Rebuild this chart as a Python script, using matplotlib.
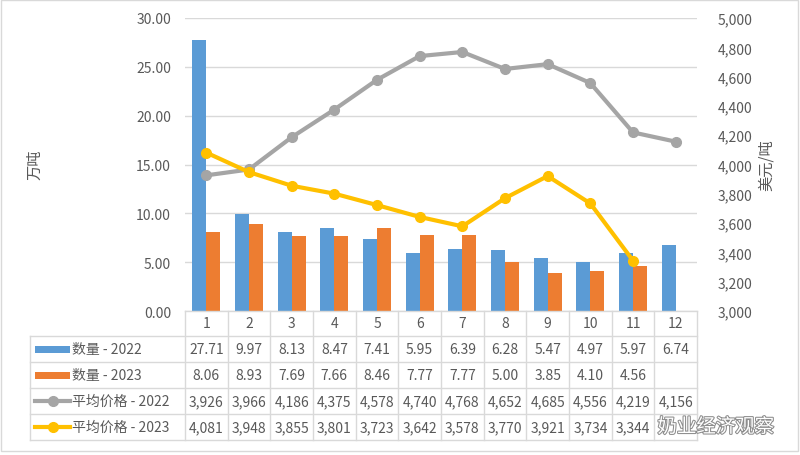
import numpy as np
import matplotlib
matplotlib.use("Agg")
import matplotlib.pyplot as plt
import matplotlib.transforms as mtrans
import matplotlib.patheffects as pe
from matplotlib.patches import Rectangle
from matplotlib.lines import Line2D

plt.rcParams['font.family'] = ['Noto Sans CJK SC', 'DejaVu Sans']

# data
months = ['1', '2', '3', '4', '5', '6', '7', '8', '9', '10', '11', '12']
qty_2022 = [27.71, 9.97, 8.13, 8.47, 7.41, 5.95, 6.39, 6.28, 5.47, 4.97, 5.97, 6.74]
qty_2023 = [8.06, 8.93, 7.69, 7.66, 8.46, 7.77, 7.77, 5.00, 3.85, 4.10, 4.56]
price_2022 = [3926, 3966, 4186, 4375, 4578, 4740, 4768, 4652, 4685, 4556, 4219, 4156]
price_2023 = [4081, 3948, 3855, 3801, 3723, 3642, 3578, 3770, 3921, 3734, 3344]
series_names = ['数量 - 2022', '数量 - 2023', '平均价格 - 2022', '平均价格 - 2023']

blue, orange, grey, gold = '#5B9BD5', '#ED7D31', '#A5A5A5', '#FFC000'
txt = '#595959'
grid_c = '#D9D9D9'

W, H = 800, 456
fig = plt.figure(figsize=(W / 100, H / 100), dpi=100)
fig.patches.append(Rectangle((0.001, 0.008), 0.997, 0.99, transform=fig.transFigure,
                             fill=False, edgecolor=grid_c, linewidth=1))

# plot area in pixels
x0, x1, ytop, ybot = 185, 697, 19, 312
ax = fig.add_axes([x0 / W, 1 - ybot / H, (x1 - x0) / W, (ybot - ytop) / H])
ax2 = ax.twinx()

x = np.arange(len(months))
bw = 0.33
ax.bar(x - bw / 2, qty_2022, bw, color=blue, zorder=2)
ax.bar(np.arange(len(qty_2023)) + bw / 2, qty_2023, bw, color=orange, zorder=2)
ax.set_xlim(-0.5, 11.5)
ax.set_ylim(0, 30)
ax.set_yticks(np.arange(0, 31, 5))
ax.set_yticklabels([f'{v:.2f}' for v in np.arange(0, 31, 5)])
ax.yaxis.grid(True, color=grid_c, linewidth=1, zorder=0)
ax.set_axisbelow(True)
ax.set_xticks([])
ax.tick_params(axis='y', length=0, pad=10, labelsize=10, labelcolor=txt)
for s in ax.spines.values():
    s.set_visible(False)

ax2.plot(x, price_2022, color=grey, linewidth=3, marker='o', markersize=7, zorder=3)
ax2.plot(np.arange(len(price_2023)), price_2023, color=gold, linewidth=3, marker='o', markersize=7, zorder=3)
ax2.set_ylim(3000, 5000)
ax2.set_yticks(np.arange(3000, 5001, 200))
ax2.set_yticklabels([f'{v:,}' for v in np.arange(3000, 5001, 200)])
ax2.tick_params(axis='y', length=0, pad=15, labelsize=10, labelcolor=txt)
for s in ax2.spines.values():
    s.set_visible(False)

fig.text(35 / W, 1 - 165 / H, '万吨', rotation=90, ha='center', va='center', fontsize=11, color=txt)
fig.text(766 / W, 1 - 165 / H, '美元/吨', rotation=90, ha='center', va='center', fontsize=11, color=txt)

# data table below the plot
rows = [312, 337, 363, 389, 415, 441]
lx = 30
bt = mtrans.blended_transform_factory(ax.transData, fig.transFigure)
ft = fig.transFigure
fy = lambda py: 1 - py / H

for ry in rows:
    left = x0 if ry == rows[0] else lx
    fig.add_artist(Line2D([left / W, x1 / W], [fy(ry), fy(ry)], transform=ft, color=grid_c, linewidth=1))
for k in range(13):
    fig.add_artist(Line2D([k - 0.5, k - 0.5], [fy(rows[0]), fy(rows[-1])], transform=bt,
                          color=grid_c, linewidth=1))
fig.add_artist(Line2D([lx / W, lx / W], [fy(rows[1]), fy(rows[-1])], transform=ft, color=grid_c, linewidth=1))

def cy(i):
    return fy((rows[i] + rows[i + 1]) / 2)

for i, m in enumerate(months):
    fig.text(i, cy(0), m, transform=bt, ha='center', va='center', fontsize=10, color=txt)

table_vals = [
    [f'{v:.2f}' for v in qty_2022],
    [f'{v:.2f}' for v in qty_2023],
    [f'{v:,}' for v in price_2022],
    [f'{v:,}' for v in price_2023],
]
for r, vals in enumerate(table_vals):
    for i, v in enumerate(vals):
        fig.text(i, cy(r + 1), v, transform=bt, ha='center', va='center', fontsize=10, color=txt)

# legend keys
for r, (name, c) in enumerate(zip(series_names, [blue, orange, grey, gold])):
    yc = cy(r + 1)
    if r < 2:
        fig.patches.append(Rectangle((35 / W, yc - 3.5 / H), 35 / W, 7 / H, transform=ft,
                                     facecolor=c, edgecolor='none'))
    else:
        fig.add_artist(Line2D([35 / W, 70 / W], [yc, yc], transform=ft, color=c, linewidth=3))
        fig.add_artist(Line2D([52.5 / W], [yc], transform=ft, color=c, marker='o', markersize=7))
    fig.text(72 / W, yc, name, ha='left', va='center', fontsize=10, color=txt)

# watermark
fig.text(716 / W, fy(428), '奶业经济观察', ha='center', va='center', fontsize=14, color='white',
         path_effects=[pe.withStroke(linewidth=1.5, foreground='#8C8C8C')])

fig.savefig('out.png', dpi=100)
